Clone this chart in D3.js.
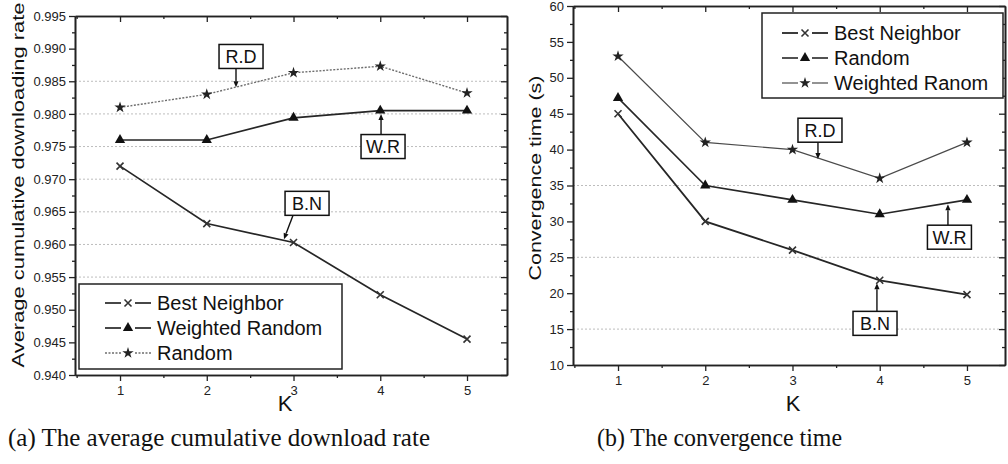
<!DOCTYPE html>
<html>
<head>
<meta charset="utf-8">
<script src="https://cdn.jsdelivr.net/npm/d3@7"></script>
<style>
  body { margin: 0; background: #fff; }
  svg { display: block; }
  .axis path, .axis line { stroke: #222; }
</style>
</head>
<body>
<div id="chart"></div>
<script>
const kValues = [1, 2, 3, 4, 5]

// (a) average cumulative downloading rate
const rateBestNeighbor = [0.9720, 0.9632, 0.9603, 0.9523, 0.9455]
const rateWeightedRandom = [0.9760, 0.9760, 0.9794, 0.9805, 0.9805]
const rateRandom = [0.9810, 0.9830, 0.9863, 0.9873, 0.9832]
const rateTicks = [0.940, 0.945, 0.950, 0.955, 0.960, 0.965, 0.970, 0.975, 0.980, 0.985, 0.990, 0.995]
const rateGrid = [0.955, 0.960, 0.965, 0.970, 0.975, 0.980, 0.985]

// (b) convergence time
const timeBestNeighbor = [45, 30, 26, 21.8, 19.8]
const timeRandom = [47.2, 35, 33, 31, 33]
const timeWeightedRanom = [53, 41, 40, 36, 41]
const timeTicks = [10, 15, 20, 25, 30, 35, 40, 45, 50, 55, 60]
const timeGrid = [15, 25, 35]

// annotations: tip of arrow (k, v) and box centre (bk, bv)
const rateNotes = [
  { label: 'R.D', k: 2.337, v: 0.9841, bk: 2.395, bv: 0.9888 },
  { label: 'W.R', k: 4.009, v: 0.9800, bk: 4.032, bv: 0.9750 },
  { label: 'B.N', k: 2.890, v: 0.9608, bk: 3.156, bv: 0.9663 },
]
const timeNotes = [
  { label: 'R.D', k: 3.292, v: 38.7, bk: 3.315, bv: 42.7 },
  { label: 'W.R', k: 4.782, v: 32.4, bk: 4.799, bv: 27.8 },
  { label: 'B.N', k: 3.968, v: 21.4, bk: 3.946, bv: 15.8 },
]

const FONT = '"Liberation Sans", Arial, sans-serif'
const SERIF = '"Liberation Serif", "DejaVu Serif", serif'

const svg = d3.select('#chart').append('svg')
  .attr('width', 1008)
  .attr('height', 464)

const markerPath = {
  times: 'M-3.5,-3.5L3.5,3.5M-3.5,3.5L3.5,-3.5',
  triangle: d3.symbol(d3.symbolTriangle, 46)(),
  star: d3.symbol(d3.symbolStar, 40)(),
}

function drawMarker(g, type, x, y, color) {
  const p = g.append('path')
    .attr('d', markerPath[type])
    .attr('transform', `translate(${x},${y})`)
  if (type === 'times') {
    p.attr('fill', 'none').attr('stroke', color).attr('stroke-width', 1.6)
  } else {
    p.attr('fill', color).attr('stroke', 'none')
  }
}

function renderPanel(cfg) {
  const { frame } = cfg
  const x = d3.scaleLinear().domain(cfg.xDomain).range([frame.left, frame.right])
  const y = d3.scaleLinear().domain(cfg.yDomain).range([frame.bottom, frame.top])
  const g = svg.append('g')

  // grid
  g.selectAll('.grid')
    .data(cfg.grid)
    .enter()
    .append('line')
    .attr('x1', frame.left)
    .attr('x2', frame.right)
    .attr('y1', d => y(d))
    .attr('y2', d => y(d))
    .attr('stroke', '#bdbdbd')
    .attr('stroke-width', 1)
    .attr('stroke-dasharray', '2,2')

  const step = cfg.yTicks[1] - cfg.yTicks[0]
  const yMinor = cfg.yTicks.slice(0, -1).map(d => d + step / 2)
  const xMinor = kValues.map(d => d + 0.5).filter(d => d < cfg.xDomain[1])
  xMinor.unshift(0.5)

  const styleAxis = sel => {
    sel.classed('axis', true)
    sel.select('.domain').attr('stroke-width', 1.6)
    sel.selectAll('.tick line').attr('stroke-width', 1.3)
    sel.selectAll('text')
      .attr('font-family', FONT)
      .attr('font-size', 13)
      .attr('fill', '#222')
  }

  // left / bottom (outward) axes
  g.append('g')
    .attr('transform', `translate(${frame.left},0)`)
    .call(d3.axisLeft(y).tickValues(cfg.yTicks).tickSize(6).tickSizeOuter(0).tickPadding(3).tickFormat(cfg.yFormat))
    .call(styleAxis)
  g.append('g')
    .attr('transform', `translate(${frame.left},0)`)
    .call(d3.axisLeft(y).tickValues(yMinor).tickSize(3).tickSizeOuter(0).tickFormat(''))
    .call(styleAxis)
  g.append('g')
    .attr('transform', `translate(0,${frame.bottom})`)
    .call(d3.axisBottom(x).tickValues(kValues).tickSize(6).tickSizeOuter(0).tickPadding(5).tickFormat(d3.format('d')))
    .call(styleAxis)
  g.append('g')
    .attr('transform', `translate(0,${frame.bottom})`)
    .call(d3.axisBottom(x).tickValues(xMinor).tickSize(3).tickSizeOuter(0).tickFormat(''))
    .call(styleAxis)

  // mirrored top / right axes, ticks inward
  g.append('g')
    .attr('transform', `translate(0,${frame.top})`)
    .call(d3.axisBottom(x).tickValues(kValues).tickSize(6).tickSizeOuter(0).tickFormat(''))
    .call(styleAxis)
  g.append('g')
    .attr('transform', `translate(0,${frame.top})`)
    .call(d3.axisBottom(x).tickValues(xMinor).tickSize(3).tickSizeOuter(0).tickFormat(''))
    .call(styleAxis)
  g.append('g')
    .attr('transform', `translate(${frame.right},0)`)
    .call(d3.axisLeft(y).tickValues(cfg.yTicks).tickSize(6).tickSizeOuter(0).tickFormat(''))
    .call(styleAxis)
  g.append('g')
    .attr('transform', `translate(${frame.right},0)`)
    .call(d3.axisLeft(y).tickValues(yMinor).tickSize(3).tickSizeOuter(0).tickFormat(''))
    .call(styleAxis)

  // series
  const line = d3.line().x((d, i) => x(kValues[i])).y(d => y(d))
  cfg.series.forEach(s => {
    g.append('path')
      .datum(s.values)
      .attr('d', line)
      .attr('fill', 'none')
      .attr('stroke', s.color)
      .attr('stroke-width', s.width)
      .attr('stroke-dasharray', s.dash || null)
    s.values.forEach((v, i) => drawMarker(g, s.marker, x(kValues[i]), y(v), s.markerColor))
  })

  // annotations
  cfg.notes.forEach(n => {
    const bw = 44, bh = 24
    const cx = x(n.bk), cy = y(n.bv)
    const tx = x(n.k), ty = y(n.v)
    const below = ty > cy
    const sx = Math.max(cx - bw / 2 + 8, Math.min(cx + bw / 2 - 8, tx))
    const sy = below ? cy + bh / 2 : cy - bh / 2
    const ang = Math.atan2(ty - sy, tx - sx)
    const hx = tx - 6 * Math.cos(ang), hy = ty - 6 * Math.sin(ang)
    g.append('line')
      .attr('x1', sx).attr('y1', sy).attr('x2', hx).attr('y2', hy)
      .attr('stroke', '#111').attr('stroke-width', 1.4)
    const px = -Math.sin(ang) * 2.6, py = Math.cos(ang) * 2.6
    g.append('path')
      .attr('d', `M${tx},${ty}L${hx + px},${hy + py}L${hx - px},${hy - py}Z`)
      .attr('fill', '#111')
    g.append('rect')
      .attr('x', cx - bw / 2).attr('y', cy - bh / 2)
      .attr('width', bw).attr('height', bh)
      .attr('fill', '#fff').attr('stroke', '#111').attr('stroke-width', 1.5)
    g.append('text')
      .attr('x', cx).attr('y', cy + 6.5)
      .attr('text-anchor', 'middle')
      .attr('font-family', FONT).attr('font-size', 18)
      .attr('fill', '#111')
      .text(n.label)
  })

  // legend
  const lg = cfg.legend
  g.append('rect')
    .attr('x', lg.x).attr('y', lg.y)
    .attr('width', lg.w).attr('height', lg.h)
    .attr('fill', '#fff').attr('stroke', '#222').attr('stroke-width', 1.5)
  cfg.series.forEach((s, i) => {
    const ry = lg.y + lg.first + i * 25
    const x0 = lg.x + lg.pad, x1 = x0 + 46, xm = (x0 + x1) / 2
    g.append('line')
      .attr('x1', x0).attr('x2', xm - 7).attr('y1', ry).attr('y2', ry)
      .attr('stroke', s.color).attr('stroke-width', s.width).attr('stroke-dasharray', s.dash || null)
    g.append('line')
      .attr('x1', xm + 7).attr('x2', x1).attr('y1', ry).attr('y2', ry)
      .attr('stroke', s.color).attr('stroke-width', s.width).attr('stroke-dasharray', s.dash || null)
    drawMarker(g, s.marker, xm, ry, s.markerColor)
    g.append('text')
      .attr('x', x1 + 6).attr('y', ry + 7)
      .attr('font-family', FONT).attr('font-size', 20)
      .attr('fill', '#111')
      .text(s.name)
  })

  // axis titles
  g.append('text')
    .attr('transform', `translate(${cfg.yTitle.x},${cfg.yTitle.y}) rotate(-90)`)
    .attr('text-anchor', 'middle')
    .attr('font-family', FONT).attr('font-size', 17)
    .attr('textLength', cfg.yTitle.len).attr('lengthAdjust', 'spacingAndGlyphs')
    .attr('fill', '#111')
    .text(cfg.yTitle.text)
  g.append('text')
    .attr('x', cfg.xTitle.x).attr('y', 411)
    .attr('text-anchor', 'middle')
    .attr('font-family', FONT).attr('font-size', 22)
    .attr('fill', '#111')
    .text('K')

  // caption
  svg.append('text')
    .attr('x', cfg.caption.x).attr('y', 446)
    .attr('font-family', SERIF).attr('font-size', 25)
    .attr('textLength', cfg.caption.len).attr('lengthAdjust', 'spacingAndGlyphs')
    .attr('fill', '#111')
    .text(cfg.caption.text)
}

renderPanel({
  frame: { left: 75, right: 507, top: 16, bottom: 375 },
  xDomain: [0.481, 5.461],
  yDomain: [0.940, 0.995],
  yTicks: rateTicks,
  yFormat: d3.format('.3f'),
  grid: rateGrid,
  series: [
    { name: 'Best Neighbor', values: rateBestNeighbor, marker: 'times', color: '#262626', markerColor: '#333', width: 1.7 },
    { name: 'Weighted Random', values: rateWeightedRandom, marker: 'triangle', color: '#262626', markerColor: '#111', width: 1.7 },
    { name: 'Random', values: rateRandom, marker: 'star', color: '#6e6e6e', markerColor: '#222', width: 1.4, dash: '2,1.5' },
  ],
  notes: rateNotes,
  legend: { x: 79, y: 284, w: 263, h: 85, first: 19, pad: 26 },
  yTitle: { x: 24, y: 185, len: 365, text: 'Average cumulative downloading rate' },
  xTitle: { x: 285 },
  caption: { x: 8, len: 422, text: '(a) The average cumulative download rate' },
})

renderPanel({
  frame: { left: 573, right: 1005, top: 6, bottom: 365 },
  xDomain: [0.484, 5.436],
  yDomain: [10, 60],
  yTicks: timeTicks,
  yFormat: d3.format('d'),
  grid: timeGrid,
  series: [
    { name: 'Best Neighbor', values: timeBestNeighbor, marker: 'times', color: '#262626', markerColor: '#333', width: 1.8 },
    { name: 'Random', values: timeRandom, marker: 'triangle', color: '#262626', markerColor: '#111', width: 1.6 },
    { name: 'Weighted Ranom', values: timeWeightedRanom, marker: 'star', color: '#4a4a4a', markerColor: '#222', width: 1.2 },
  ],
  notes: timeNotes,
  legend: { x: 762, y: 13, w: 241, h: 85, first: 20, pad: 20 },
  yTitle: { x: 541, y: 178, len: 205, text: 'Convergence time (s)' },
  xTitle: { x: 793 },
  caption: { x: 597, len: 245, text: '(b) The convergence time' },
})
</script>
</body>
</html>
